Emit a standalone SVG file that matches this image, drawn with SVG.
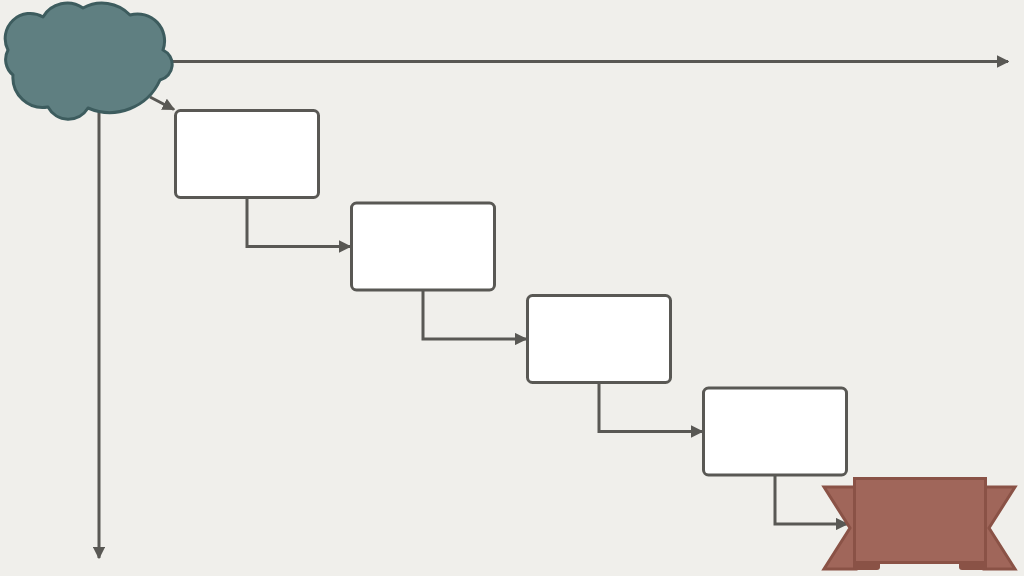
<svg xmlns="http://www.w3.org/2000/svg" width="1024" height="576" viewBox="0 0 1024 576">
<defs>
<style>
.box{fill:#ffffff;stroke:#595854;stroke-width:3}
.conn{fill:none;stroke:#595854;stroke-width:3}
.rib{fill:#a0665a;stroke:#8a5246;stroke-width:3;stroke-linejoin:miter}
.ribd{fill:#8a5246}
</style>
<marker id="ah" viewBox="0 0 10 10" refX="9" refY="5" markerWidth="4.2" markerHeight="4.2" orient="auto" markerUnits="strokeWidth">
<path d="M0,0 L10,5 L0,10 Z" fill="#595854"/>
</marker>
</defs>
<rect width="1024" height="576" fill="#f0efeb"/>
<g id="connectors">
<path class="conn" d="M172,61.5 H1008" marker-end="url(#ah)"/>
<path class="conn" d="M99,110 V558" marker-end="url(#ah)"/>
<path class="conn" d="M150,97 L174,109.5" marker-end="url(#ah)"/>
<path class="conn" d="M247,198 V246.5 H350" marker-end="url(#ah)"/>
<path class="conn" d="M423,290 V339 H526" marker-end="url(#ah)"/>
<path class="conn" d="M599,383 V431.5 H702" marker-end="url(#ah)"/>
<path class="conn" d="M775,475 V524 H847" marker-end="url(#ah)"/>
</g>
<g id="cloud">
<path d="M43,17 A28 28 0 0 1 83,8 A39 39 0 0 1 130,15 A27 27 0 0 1 163,50 A16 16 0 0 1 160,80 A55 55 0 0 1 88,108 A23 23 0 0 1 48,107 A30 30 0 0 1 13,75 A20 20 0 0 1 8,50 A25 25 0 0 1 43,17 Z" fill="#5f7f81" stroke="#3d5c5e" stroke-width="3" stroke-linejoin="round"/>
</g>
<g id="step1"><rect class="box" x="175.5" y="110.5" width="143" height="87" rx="5"/></g>
<g id="step2"><rect class="box" x="351.5" y="203" width="143" height="87" rx="5"/></g>
<g id="step3"><rect class="box" x="527.5" y="295.5" width="143" height="87" rx="5"/></g>
<g id="step4"><rect class="box" x="703.5" y="388" width="143" height="87" rx="5"/></g>
<g id="banner">
<path class="rib" d="M824,487 H856 V569 H824 L850,528 Z"/>
<path class="rib" d="M1015,487 H984 V569 H1015 L989,528 Z"/>
<path class="ribd" d="M853,560 H880 V567 Q880,570 877,570 H856 Q853,570 853,567 Z"/>
<path class="ribd" d="M959,560 H987 V567 Q987,570 984,570 H962 Q959,570 959,567 Z"/>
<rect class="rib" x="854.5" y="478.5" width="131" height="84"/>
</g>
</svg>
